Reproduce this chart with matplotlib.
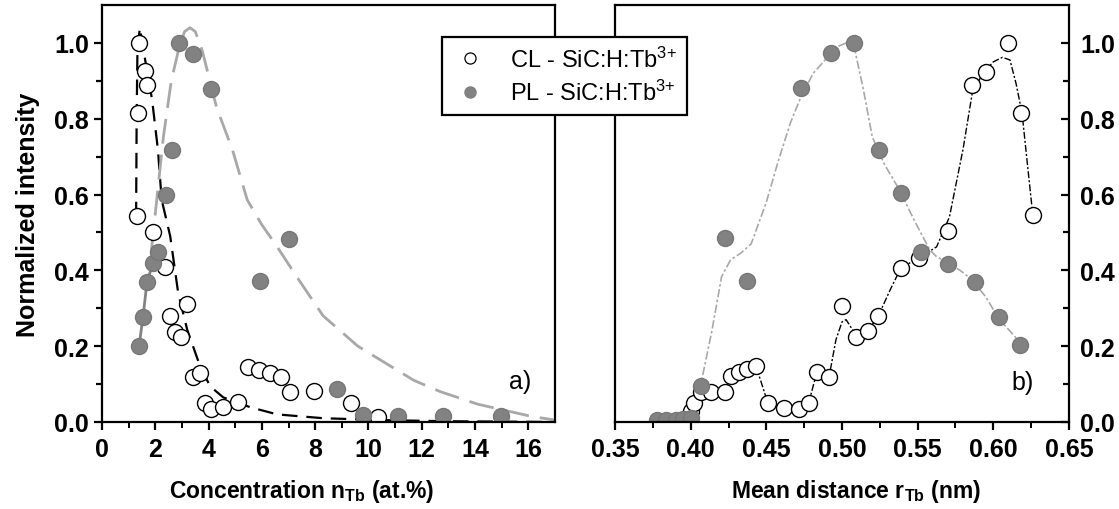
import matplotlib
matplotlib.use("Agg")
import matplotlib.pyplot as plt
from matplotlib.lines import Line2D

plt.rcParams['font.family'] = ['Liberation Sans', 'DejaVu Sans']
plt.rcParams['mathtext.fontset'] = 'custom'
plt.rcParams['mathtext.rm'] = 'Liberation Sans'
plt.rcParams['mathtext.bf'] = 'Liberation Sans:bold'
plt.rcParams['mathtext.default'] = 'rm'

# ---- panel a) : intensity vs concentration ----
cl_conc = [1.32, 1.35, 1.39, 1.62, 1.69, 1.92, 2.37, 2.56, 2.74, 2.97, 3.2, 3.42, 3.68,
           3.87, 4.1, 4.55, 5.1, 5.49, 5.9, 6.32, 6.73, 7.07, 7.97, 9.36, 10.37]
cl_conc_int = [0.544, 0.814, 1.0, 0.926, 0.89, 0.50, 0.41, 0.28, 0.238, 0.225, 0.31, 0.12, 0.128,
               0.05, 0.033, 0.04, 0.054, 0.144, 0.136, 0.13, 0.12, 0.08, 0.083, 0.049, 0.012]

pl_conc = [1.39, 1.54, 1.69, 1.92, 2.1, 2.4, 2.63, 2.9, 3.42, 4.1, 5.94, 7.03, 8.83, 9.81,
           11.1, 12.8, 14.96]
pl_conc_int = [0.2, 0.278, 0.37, 0.42, 0.449, 0.60, 0.717, 1.0, 0.97, 0.878, 0.373, 0.483,
               0.086, 0.018, 0.015, 0.015, 0.015]

# fitted curves
cl_fit_conc = [1.28, 1.30, 1.33, 1.42, 1.52, 1.62, 1.88, 2.1, 2.24, 2.56, 2.86, 3.2, 3.68,
               4.06, 4.55, 5.56, 6.58, 8.3, 10.5, 13.0, 17.0]
cl_fit_int = [0.54, 0.80, 0.98, 1.04, 1.00, 0.955, 0.85, 0.717, 0.586, 0.49, 0.34, 0.243, 0.147,
              0.094, 0.065, 0.039, 0.02, 0.01, 0.005, 0.002, 0.0]
pl_fit_conc = [1.85, 2.0, 2.3, 2.6, 2.9, 3.1, 3.3, 3.5, 3.76, 4.3, 4.9, 5.45, 6.0, 6.5, 7.3,
               8.3, 9.6, 11.7, 12.7, 14.1, 16.1, 17.0]
pl_fit_int = [0.45, 0.55, 0.75, 0.90, 0.99, 1.03, 1.04, 1.03, 0.98, 0.83, 0.717, 0.586, 0.52,
              0.47, 0.384, 0.28, 0.20, 0.11, 0.08, 0.047, 0.015, 0.005]
pl_low_n = 5  # first PL points joined by a solid line

# ---- panel b) : intensity vs mean distance ----
cl_dist = [0.40, 0.4025, 0.4065, 0.4135, 0.4225, 0.4265, 0.432, 0.437, 0.443, 0.451, 0.4615,
           0.4715, 0.478, 0.4835, 0.4915, 0.500, 0.509, 0.517, 0.524, 0.539, 0.551, 0.570,
           0.586, 0.595, 0.610, 0.618, 0.626]
cl_dist_int = [0.028, 0.049, 0.08, 0.078, 0.08, 0.122, 0.133, 0.139, 0.149, 0.051, 0.038,
               0.033, 0.051, 0.133, 0.12, 0.307, 0.225, 0.24, 0.28, 0.407, 0.433, 0.504,
               0.89, 0.923, 1.0, 0.815, 0.546]

pl_dist = [0.378, 0.384, 0.390, 0.395, 0.400, 0.407, 0.423, 0.4375, 0.473, 0.4928, 0.508,
           0.5245, 0.539, 0.5525, 0.5698, 0.5877, 0.6037, 0.6176]
pl_dist_int = [0.005, 0.005, 0.005, 0.008, 0.01, 0.094, 0.486, 0.373, 0.88, 0.973, 1.0,
               0.718, 0.605, 0.449, 0.417, 0.37, 0.278, 0.204]

cl_fit_dist = [0.40, 0.4025, 0.4065, 0.4135, 0.4225, 0.4265, 0.432, 0.437, 0.443, 0.447, 0.451,
               0.4615, 0.4715, 0.478, 0.4835, 0.4915, 0.496, 0.500, 0.5027, 0.507, 0.509,
               0.517, 0.524, 0.532, 0.539, 0.551, 0.5625, 0.571, 0.580, 0.586, 0.593, 0.600,
               0.606, 0.611, 0.615, 0.619, 0.622, 0.6255]
cl_fit_dist_int = [0.03, 0.05, 0.08, 0.078, 0.08, 0.122, 0.133, 0.139, 0.149, 0.10, 0.05,
                   0.038, 0.035, 0.051, 0.133, 0.12, 0.217, 0.264, 0.27, 0.243, 0.225, 0.24,
                   0.28, 0.35, 0.407, 0.433, 0.462, 0.541, 0.72, 0.866, 0.92, 0.95, 0.962,
                   0.955, 0.893, 0.814, 0.70, 0.568]
pl_fit_dist = [0.375, 0.385, 0.395, 0.400, 0.407, 0.414, 0.4204, 0.4264, 0.433, 0.440, 0.450,
               0.458, 0.466, 0.4728, 0.481, 0.490, 0.497, 0.5027, 0.508, 0.514, 0.520, 0.528,
               0.538, 0.548, 0.558, 0.5625, 0.570, 0.578, 0.586, 0.595, 0.604, 0.611, 0.6176]
pl_fit_dist_int = [0.0, 0.0, 0.01, 0.03, 0.105, 0.24, 0.383, 0.428, 0.445, 0.47, 0.58, 0.69,
                   0.79, 0.857, 0.92, 0.96, 0.99, 1.0, 0.99, 0.88, 0.752, 0.68, 0.612, 0.53,
                   0.454, 0.436, 0.42, 0.40, 0.375, 0.33, 0.27, 0.24, 0.21]

W, H = 1119, 510
fig = plt.figure(figsize=(W / 100, H / 100), dpi=100)
ax1 = fig.add_axes([102 / W, 1 - 423 / H, (555 - 102) / W, (423 - 6) / H])
ax2 = fig.add_axes([615 / W, 1 - 423 / H, (1069 - 615) / W, (423 - 6) / H])

gray = '#828282'
open_kw = dict(ls='none', marker='o', ms=11.5, mfc='white', mec='black', mew=1.0)
fill_kw = dict(ls='none', marker='o', ms=11.5, mfc=gray, mec='#777777', mew=1.0)

# panel a
ax1.plot(cl_fit_conc, cl_fit_int, color='black', lw=1.6, dashes=(7, 4))
ax1.plot(pl_fit_conc, pl_fit_int, color='#a8a8a8', lw=2.0, dashes=(9, 4))
ax1.plot(pl_conc[:pl_low_n], pl_conc_int[:pl_low_n], color=gray, lw=2.0)
ax1.plot(cl_conc, cl_conc_int, **open_kw)
ax1.plot(pl_conc, pl_conc_int, **fill_kw)
ax1.set_xlim(0, 17)
ax1.set_ylim(0, 1.1)
ax1.set_xticks(range(0, 17, 2))
ax1.set_xticks(range(1, 17, 2), minor=True)
ax1.text(15.7, 0.107, 'a)', fontsize=18, ha='center', va='center')
ax1.set_xlabel(r'Concentration n$_{\mathbf{Tb}}$ (at.%)', fontsize=16.5, fontweight='bold')
ax1.xaxis.set_label_coords(0.44, -0.133)
ax1.set_ylabel('Normalized intensity', fontsize=18, fontweight='bold', labelpad=10)

# panel b
ax2.plot(cl_fit_dist, cl_fit_dist_int, color='black', lw=1.0, dashes=(5, 1.5, 1.5, 1.5))
ax2.plot(pl_fit_dist, pl_fit_dist_int, color='#a8a8a8', lw=1.2, dashes=(5, 1.5, 1.5, 1.5))
ax2.plot(cl_dist, cl_dist_int, **open_kw)
ax2.plot(pl_dist, pl_dist_int, **fill_kw)
ax2.set_xlim(0.35, 0.65)
ax2.set_ylim(0, 1.1)
ax2.set_xticks([0.35, 0.40, 0.45, 0.50, 0.55, 0.60, 0.65])
ax2.set_xticks([0.375, 0.425, 0.475, 0.525, 0.575, 0.625], minor=True)
ax2.text(0.619, 0.105, 'b)', fontsize=18, ha='center', va='center')
ax2.set_xlabel(r'Mean distance r$_{\mathbf{Tb}}$ (nm)', fontsize=16.5, fontweight='bold')
ax2.xaxis.set_label_coords(0.53, -0.133)

for ax in (ax1, ax2):
    ax.set_yticks([0.0, 0.2, 0.4, 0.6, 0.8, 1.0])
    ax.set_yticks([0.1, 0.3, 0.5, 0.7, 0.9], minor=True)
    ax.yaxis.set_major_formatter(matplotlib.ticker.FormatStrFormatter('%.1f'))
    for s in ax.spines.values():
        s.set_linewidth(1.6)
    ax.tick_params(axis='x', which='major', direction='out', length=6, width=1.6,
                   labelsize=18, pad=5)
    ax.tick_params(axis='x', which='minor', direction='out', length=4, width=1.4)
    for lab in ax.get_xticklabels() + ax.get_yticklabels():
        lab.set_fontweight('bold')

ax1.tick_params(axis='y', which='both', left=True, right=False, direction='out',
                labelsize=18, width=1.6)
ax1.tick_params(axis='y', which='major', length=6)
ax1.tick_params(axis='y', which='minor', length=4)
ax2.tick_params(axis='y', which='both', left=False, right=True, labelleft=False,
                labelright=True, direction='in', labelsize=18, width=1.6, pad=8)
ax2.tick_params(axis='y', which='major', length=6)
ax2.tick_params(axis='y', which='minor', length=4)
for lab in ax2.get_yticklabels():
    lab.set_fontweight('bold')

handles = [
    Line2D([], [], ls='none', marker='o', ms=8, mfc='white', mec='black', mew=0.9),
    Line2D([], [], ls='none', marker='o', ms=8, mfc=gray, mec=gray),
]
labels = [r'CL - SiC:H:Tb$^{3{+}}$', r'PL - SiC:H:Tb$^{3{+}}$']
leg = fig.legend(handles, labels, loc='upper left', bbox_to_anchor=(442 / W, 1 - 38 / H),
                 borderaxespad=0, fontsize=17, frameon=True, fancybox=False,
                 framealpha=1, edgecolor='black', handlelength=1.6, handletextpad=0.9,
                 borderpad=0.4, labelspacing=0.35)
leg.get_frame().set_linewidth(1.6)

fig.savefig('out.png', dpi=100)
